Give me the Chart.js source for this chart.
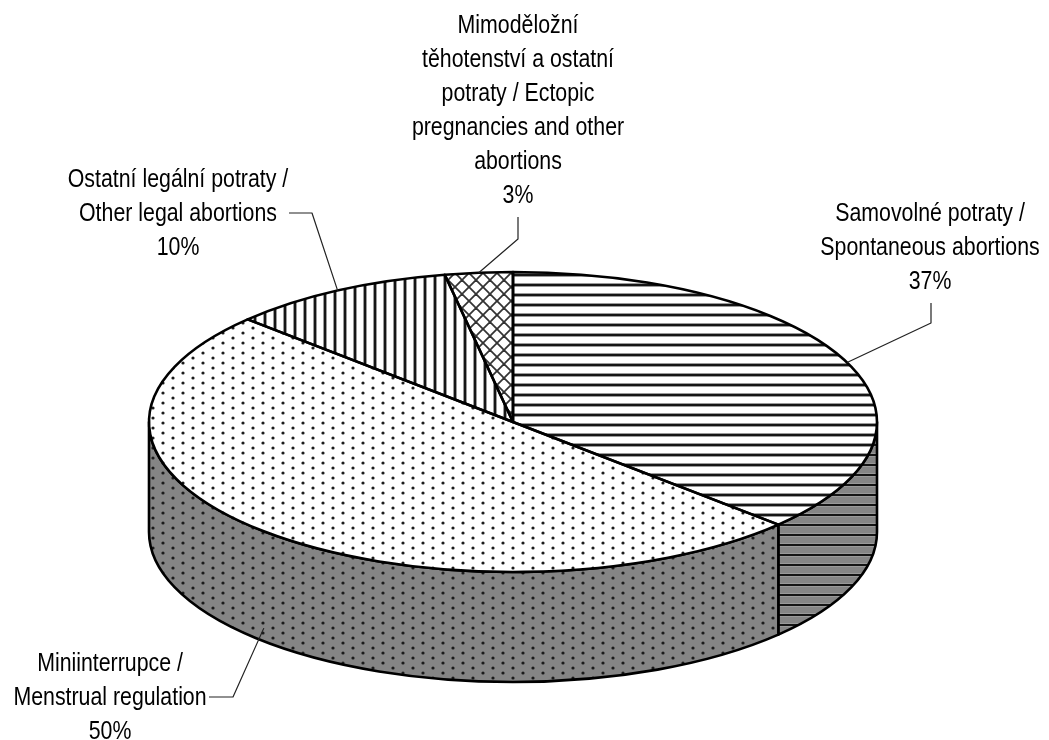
<!DOCTYPE html>
<html>
<head>
<meta charset="utf-8">
<title>Potraty podle druhu</title>
<script src="https://cdn.jsdelivr.net/npm/chart.js@4.4.1/dist/chart.umd.min.js"></script>
<style>
    html, body { margin: 0; padding: 0; background: #fff; }
    #wrap { width: 1049px; height: 740px; }
</style>
</head>
<body>
<div id="wrap"><canvas id="pie" width="1049" height="740"></canvas></div>
<script>
// Data
const categories = [
    'Samovolné potraty / Spontaneous abortions',
    'Miniinterrupce / Menstrual regulation',
    'Ostatní legální potraty / Other legal abortions',
    'Mimoděložní těhotenství a ostatní potraty / Ectopic pregnancies and other abortions'
];
const shares = [37, 50, 10, 3];
const labelLines = [
    ['Samovolné potraty /', 'Spontaneous abortions'],
    ['Miniinterrupce /', 'Menstrual regulation'],
    ['Ostatní legální potraty /', 'Other legal abortions'],
    ['Mimoděložní', 'těhotenství a ostatní', 'potraty / Ectopic', 'pregnancies and other', 'abortions']
];
const fills = ['hlines', 'dots', 'vlines', 'cross'];

// Look of the 3D pie
const TILT = 0.412;     // vertical squash of the top face
const DROP = 52;        // top face centre sits this far below the chart area centre
const DEPTH = 110;      // thickness of the pie
const FONT = '26px "Liberation Sans", Arial, sans-serif';
const NARROW = 0.82;    // horizontal squeeze to get a narrow face
const LINE_GAP = 34;

// label placement: text centre x, first baseline, leader points before the slice
const labelPos = [
    { x: 930, y: 221, leader: [[931, 303], [931, 323]] },
    { x: 110, y: 671, leader: [[209, 697], [233, 697]] },
    { x: 178, y: 187, leader: [[289, 213], [312, 213]] },
    { x: 518, y: 33,  leader: [[518, 217], [518, 239]] }
];

function makeTile(kind, bg) {
    const c = document.createElement('canvas');
    const g = c.getContext('2d');
    if (kind === 'hlines') {
        c.width = 10; c.height = 10;
        g.fillStyle = bg; g.fillRect(0, 0, 10, 10);
        g.fillStyle = '#9a9a9a'; g.fillRect(0, 3, 10, 4);
        g.fillStyle = '#151515'; g.fillRect(0, 4, 10, 2);
    } else if (kind === 'vlines') {
        c.width = 10; c.height = 10;
        g.fillStyle = bg; g.fillRect(0, 0, 10, 10);
        g.fillStyle = '#9a9a9a'; g.fillRect(3, 0, 4, 10);
        g.fillStyle = '#151515'; g.fillRect(4, 0, 2, 10);
    } else if (kind === 'dots') {
        c.width = 20; c.height = 10;
        g.fillStyle = bg; g.fillRect(0, 0, 20, 10);
        g.fillStyle = '#1a1a1a';
        [[3, 3], [13, 8]].forEach(p => {
            g.beginPath(); g.arc(p[0], p[1], 1.6, 0, Math.PI * 2); g.fill();
        });
    } else {
        c.width = 14; c.height = 14;
        g.fillStyle = bg; g.fillRect(0, 0, 14, 14);
        g.strokeStyle = '#333'; g.lineWidth = 1.8;
        for (let s = -14; s <= 14; s += 14) {
            g.beginPath(); g.moveTo(s - 1, -1); g.lineTo(s + 15, 15); g.stroke();
            g.beginPath(); g.moveTo(s + 15, -1); g.lineTo(s - 1, 15); g.stroke();
        }
    }
    return c;
}

const ctx0 = document.getElementById('pie').getContext('2d');
const topPatterns = fills.map(k => ctx0.createPattern(makeTile(k, '#fff'), 'repeat'));
const sidePatterns = fills.map(k => ctx0.createPattern(makeTile(k, '#858585'), 'repeat'));

function geometry(chart) {
    const arcs = chart.getDatasetMeta(0).data;
    const a = arcs[0];
    return { arcs, cx: a.x, y0: a.y, cy: a.y + DROP, R: a.outerRadius, ry: a.outerRadius * TILT };
}

const pie3d = {
    id: 'pie3d',
    beforeDatasetsDraw(chart) {
        const ctx = chart.ctx;
        const g = geometry(chart);

        // side walls of the front half
        g.arcs.forEach((arc, i) => {
            const a0 = Math.max(arc.startAngle, 0);
            const a1 = Math.min(arc.endAngle, Math.PI);
            if (a1 <= a0) return;
            ctx.beginPath();
            ctx.ellipse(g.cx, g.cy, g.R, g.ry, 0, a0, a1, false);
            ctx.lineTo(g.cx + g.R * Math.cos(a1), g.cy + DEPTH + g.ry * Math.sin(a1));
            ctx.ellipse(g.cx, g.cy + DEPTH, g.R, g.ry, 0, a1, a0, true);
            ctx.closePath();
            ctx.fillStyle = sidePatterns[i];
            ctx.fill();
            ctx.lineWidth = 2.6;
            ctx.lineJoin = 'round';
            ctx.strokeStyle = '#000';
            ctx.stroke();
        });

        // squash the library's circle into the top face
        const m = new DOMMatrix().translate(0, g.y0).scale(1, 1 / TILT).translate(0, -g.cy);
        topPatterns.forEach(p => p.setTransform(m));
        ctx.save();
        ctx.translate(0, g.cy);
        ctx.scale(1, TILT);
        ctx.translate(0, -g.y0);
    },
    afterDatasetsDraw(chart) {
        const ctx = chart.ctx;
        ctx.restore();
        const g = geometry(chart);

        // slice outlines on the top face
        ctx.lineWidth = 2.6;
        ctx.lineJoin = 'round';
        ctx.strokeStyle = '#000';
        g.arcs.forEach(arc => {
            ctx.beginPath();
            ctx.moveTo(g.cx, g.cy);
            ctx.ellipse(g.cx, g.cy, g.R, g.ry, 0, arc.startAngle, arc.endAngle, false);
            ctx.closePath();
            ctx.stroke();
        });

        // labels with leader lines
        ctx.font = FONT;
        ctx.fillStyle = '#000';
        ctx.textAlign = 'center';
        ctx.textBaseline = 'alphabetic';
        g.arcs.forEach((arc, i) => {
            const pos = labelPos[i];
            const lines = labelLines[i].concat([shares[i] + '%']);
            lines.forEach((t, j) => {
                ctx.save();
                ctx.translate(pos.x, pos.y + j * LINE_GAP);
                ctx.scale(NARROW, 1);
                ctx.fillText(t, 0, 0);
                ctx.restore();
            });

            const mid = (arc.startAngle + arc.endAngle) / 2;
            const ax = g.cx + g.R * Math.cos(mid);
            let ay = g.cy + g.ry * Math.sin(mid);
            if (Math.sin(mid) > 0) ay += DEPTH * 0.88;
            ctx.beginPath();
            ctx.moveTo(pos.leader[0][0], pos.leader[0][1]);
            for (let k = 1; k < pos.leader.length; k++) ctx.lineTo(pos.leader[k][0], pos.leader[k][1]);
            ctx.lineTo(ax, ay);
            ctx.lineWidth = 1.2;
            ctx.strokeStyle = '#222';
            ctx.stroke();
        });
    }
};

new Chart(ctx0, {
    type: 'pie',
    data: {
        labels: categories,
        datasets: [{
            data: shares,
            backgroundColor: topPatterns,
            borderWidth: 0,
            borderColor: 'rgba(0,0,0,0)',
            clip: false
        }]
    },
    options: {
        responsive: false,
        devicePixelRatio: 1,
        animation: false,
        events: [],
        layout: { padding: { left: 149, right: 172, top: 6, bottom: 6 } },
        plugins: {
            legend: { display: false },
            tooltip: { enabled: false }
        }
    },
    plugins: [pie3d]
});
</script>
</body>
</html>
